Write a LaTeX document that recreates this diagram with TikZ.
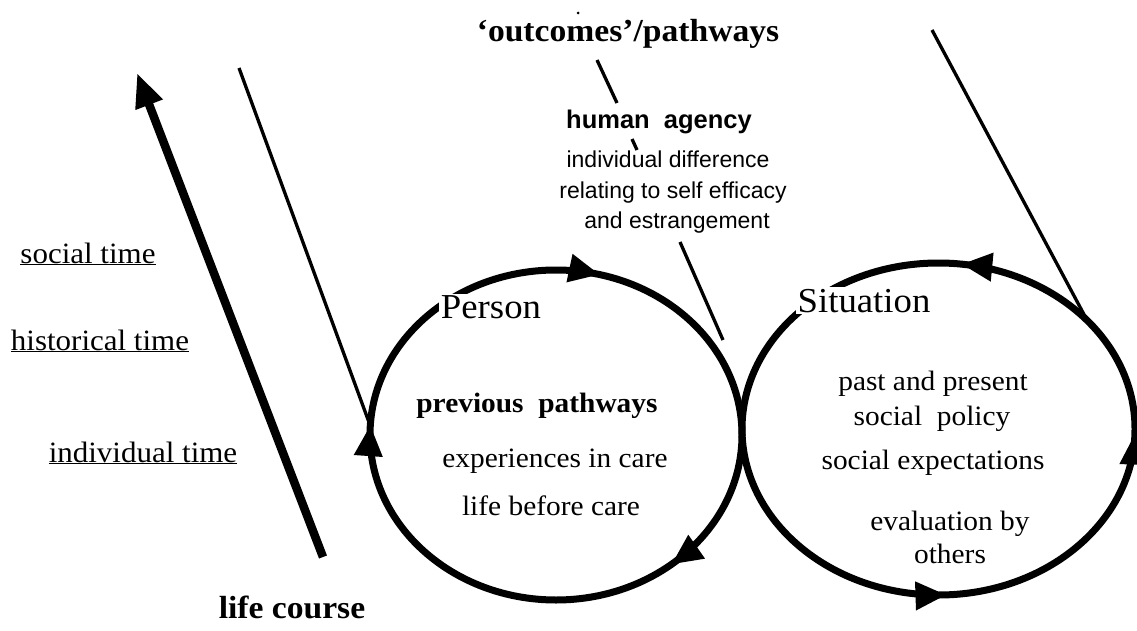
\documentclass[tikz,border=0pt]{standalone}
\usepackage{fontspec}
\setmainfont{Liberation Serif}[FakeStretch=1.05]
\setsansfont{Liberation Sans}
\usetikzlibrary{arrows.meta,decorations.markings}
\tikzset{
  ring/.style={line width=7pt, draw=black},
  conn/.style={line width=3.3pt, draw=black},
  bigtip/.tip={Triangle[length=31pt,width=27pt]},
  body/.style={font=\fontsize{28}{32}\selectfont, inner sep=0pt, anchor=base},
  bodyb/.style={font=\fontsize{28}{32}\selectfont\bfseries, inner sep=0pt, anchor=base},
  title/.style={font=\fontsize{35}{40}\selectfont, fill=white, inner sep=1.5pt, anchor=base},
  headb/.style={font=\fontsize{32}{36}\selectfont\bfseries, inner sep=0pt, anchor=base},
  sans/.style={font=\sffamily\fontsize{23}{26}\selectfont, inner sep=0pt, anchor=base},
  sansb/.style={font=\sffamily\bfseries\fontsize{25.5}{28}\selectfont, inner sep=0pt, anchor=base},
  timelbl/.style={font=\fontsize{29.5}{32}\selectfont, inner sep=0pt, anchor=base},
}
\begin{document}
\begin{tikzpicture}[x=1pt,y=-1pt]
\useasboundingbox (0,0) rectangle (1137,631);

% ellipses
\draw[ring, postaction={decorate}, decoration={markings,
   mark=at position 0.139 with {\arrow{bigtip}},
   mark=at position 0.509 with {\arrow{bigtip}},
   mark=at position 0.79 with {\arrow{bigtip}}}]
  (556,435) ellipse [x radius=186, y radius=165];
\draw[ring, postaction={decorate}, decoration={markings,
   mark=at position 0.004 with {\arrowreversed{bigtip}},
   mark=at position 0.243 with {\arrowreversed{bigtip}},
   mark=at position 0.77 with {\arrowreversed{bigtip}}}]
  (938.5,429) ellipse [x radius=196.5, y radius=166];

% titles over the rings
\node[title] (person) at (491,318) {Person};
\node[title] (situation) at (864,312) {Situation};

% top texts
\node[headb] (outcomes) at (628,42) {‘outcomes’/pathways};
\fill (578,13) circle (1.5);
\node[sansb] (agency) at (659,129) {human\ \ agency};
\node[sans] (diff1) at (668,168) {individual difference};
\node[sans] (diff2) at (673,198) {relating to self efficacy};
\node[sans] (diff3) at (677,229) {and estrangement};

% person texts
\node[bodyb] (prev) at (537,412) {previous\ \ pathways};
\node[body] (exp) at (555,467) {experiences in care};
\node[body] (lbc) at (551,515) {life before care};

% situation texts
\node[body] (past) at (933,390) {past and present};
\node[body] (pol) at (932,425) {social\ \ policy};
\node[body] (exps) at (933,469) {social expectations};
\node[body] (eval) at (950,530) {evaluation by};
\node[body] (oth) at (950,563) {others};

% left labels
\node[timelbl] (soc) at (88,263) {\underline{social\ time}};
\node[timelbl] (hist) at (100,350) {\underline{historical\ time}};
\node[timelbl] (ind) at (143,462) {\underline{individual\ time}};
\node[headb] (lc) at (292,618) {life course};

% coordinates for connectors
\coordinate (lcbot) at (323,557);
\coordinate (lctip) at (137,73);
\coordinate (ltop) at (239,68);
\coordinate (pleft) at (370,425);
\coordinate (o1) at (597,60);
\coordinate (o2) at (617,103);
\coordinate (t1) at (632,139);
\coordinate (t2) at (637,150);
\coordinate (e1) at (680,242);
\coordinate (e2) at (723,340);
\coordinate (r1) at (932,30);
\coordinate (r2) at (1088,322);

\draw[line width=8.5pt, -{Triangle[length=34pt,width=27pt]}] (lcbot) -- (lctip);
\draw[conn] (ltop) -- (pleft);
\draw[conn] (o1) -- (o2);
\draw[conn] (t1) -- (t2);
\draw[conn] (e1) -- (e2);
\draw[conn] (r1) -- (r2);
\end{tikzpicture}
\end{document}
